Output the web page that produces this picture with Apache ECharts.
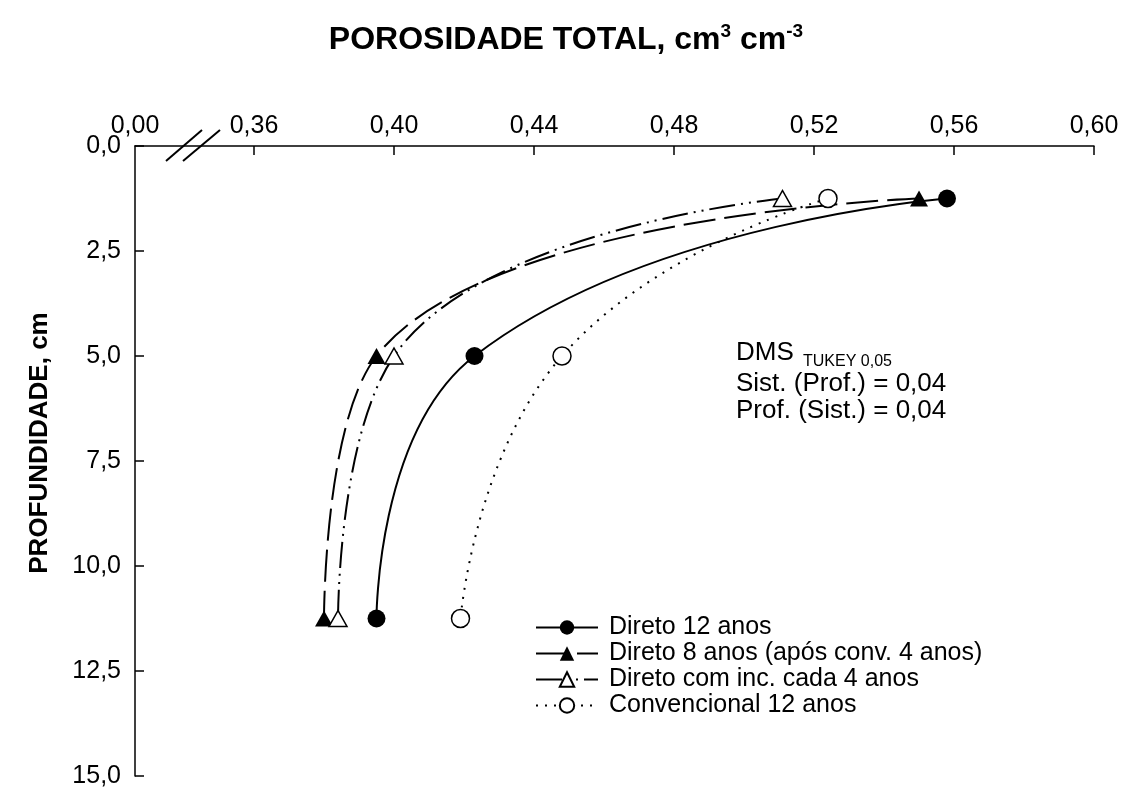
<!DOCTYPE html>
<html>
<head>
<meta charset="utf-8">
<script src="https://cdn.jsdelivr.net/npm/echarts@6/dist/echarts.min.js"></script>
<style>
html, body { margin: 0; padding: 0; background: #fff; }
#chart { width: 1131px; height: 789px; }
</style>
</head>
<body>
<div id="chart"></div>
<script>
// depth of each sample (cm) and total porosity per system
const depths = [1.25, 5.0, 11.25];
const direto12 = [0.558, 0.423, 0.395];
const direto8 = [0.550, 0.395, 0.380];
const diretoInc = [0.511, 0.400, 0.384];
const convencional = [0.524, 0.448, 0.419];
const seriesNames = [
    "Direto 12 anos",
    "Direto 8 anos (após conv. 4 anos)",
    "Direto com inc. cada 4 anos",
    "Convencional 12 anos"
];
// x axis is broken: the left end stands for 0,00
const xBreakMin = 0.326;
const xTicks = [0.36, 0.40, 0.44, 0.48, 0.52, 0.56, 0.60];

const font = "'Liberation Sans', Arial, sans-serif";
const comma = (v, d) => v.toFixed(d).replace(".", ",");
const pairs = arr => depths.map((d, i) => [arr[i], d]);

const chart = echarts.init(document.getElementById("chart"));
const axisStyle = { color: "#000", width: 1.5 };

const option = {
    animation: false,
    backgroundColor: "#fff",
    textStyle: { fontFamily: font },
    grid: { left: 135, right: 37, top: 146, bottom: 13 },
    xAxis: {
        type: "value",
        position: "top",
        min: xBreakMin,
        max: 0.60,
        axisLine: { lineStyle: axisStyle },
        axisTick: { inside: true, length: 9, customValues: xTicks, lineStyle: axisStyle },
        axisLabel: {
            customValues: [xBreakMin].concat(xTicks),
            formatter: v => (v < 0.35 ? "0,00" : comma(v, 2)),
            fontSize: 25,
            color: "#000",
            margin: 7
        },
        splitLine: { show: false }
    },
    yAxis: {
        type: "value",
        inverse: true,
        min: 0,
        max: 15,
        interval: 2.5,
        axisLine: { lineStyle: axisStyle },
        axisTick: { inside: true, length: 9, lineStyle: axisStyle },
        axisLabel: {
            formatter: v => comma(v, 1),
            fontSize: 25,
            color: "#000",
            margin: 14
        },
        splitLine: { show: false }
    },
    legend: {
        orient: "vertical",
        left: 530,
        top: 610,
        itemWidth: 62,
        itemHeight: 18,
        itemGap: 1,
        textStyle: { fontSize: 25, color: "#000", fontFamily: font, padding: [0, 0, 0, 6] },
        data: seriesNames
    },
    series: [
        {
            name: seriesNames[0],
            type: "line",
            smooth: 0.5,
            data: pairs(direto12),
            symbol: "circle",
            symbolSize: 18,
            itemStyle: { color: "#000" },
            lineStyle: { color: "#000", width: 2, type: "solid" }
        },
        {
            name: seriesNames[1],
            type: "line",
            smooth: 0.5,
            data: pairs(direto8),
            symbol: "triangle",
            symbolSize: [18, 16],
            itemStyle: { color: "#000" },
            lineStyle: { color: "#000", width: 2, type: [32, 9] }
        },
        {
            name: seriesNames[2],
            type: "line",
            smooth: 0.5,
            data: pairs(diretoInc),
            symbol: "triangle",
            symbolSize: [18, 16],
            itemStyle: { color: "#fff", borderColor: "#000", borderWidth: 1.5 },
            lineStyle: { color: "#000", width: 2, type: [26, 6, 2, 6, 2, 6] }
        },
        {
            name: seriesNames[3],
            type: "line",
            smooth: 0.5,
            data: pairs(convencional),
            symbol: "circle",
            symbolSize: 18,
            itemStyle: { color: "#fff", borderColor: "#000", borderWidth: 1.5 },
            lineStyle: { color: "#000", width: 2, type: [2, 7] }
        }
    ],
    graphic: [
        // axis break marks
        { type: "line", shape: { x1: 166, y1: 161, x2: 202, y2: 130 }, style: { stroke: "#000", lineWidth: 2 } },
        { type: "line", shape: { x1: 183, y1: 161, x2: 220, y2: 130 }, style: { stroke: "#000", lineWidth: 2 } },
        {
            type: "text",
            x: 566,
            y: 40,
            style: {
                text: "{t|POROSIDADE TOTAL, cm}{s|3}{t| cm}{s|-3}",
                align: "center",
                verticalAlign: "middle",
                rich: {
                    t: { fontSize: 32, fontWeight: "bold", fontFamily: font, lineHeight: 36, fill: "#000" },
                    s: { fontSize: 19, fontWeight: "bold", fontFamily: font, verticalAlign: "top", lineHeight: 36, fill: "#000" }
                }
            }
        },
        {
            type: "text",
            x: 40,
            y: 443,
            rotation: Math.PI / 2,
            style: {
                text: "PROFUNDIDADE, cm",
                align: "center",
                verticalAlign: "middle",
                font: "bold 26px " + font,
                fill: "#000"
            }
        },
        { type: "text", x: 736, y: 353, style: { text: "DMS", verticalAlign: "middle", font: "26px " + font, fill: "#000" } },
        { type: "text", x: 803, y: 362, style: { text: "TUKEY 0,05", verticalAlign: "middle", font: "16px " + font, fill: "#000" } },
        { type: "text", x: 736, y: 384, style: { text: "Sist. (Prof.) = 0,04", verticalAlign: "middle", font: "26px " + font, fill: "#000" } },
        { type: "text", x: 736, y: 411, style: { text: "Prof. (Sist.) = 0,04", verticalAlign: "middle", font: "26px " + font, fill: "#000" } }
    ]
};

chart.setOption(option);
</script>
</body>
</html>
